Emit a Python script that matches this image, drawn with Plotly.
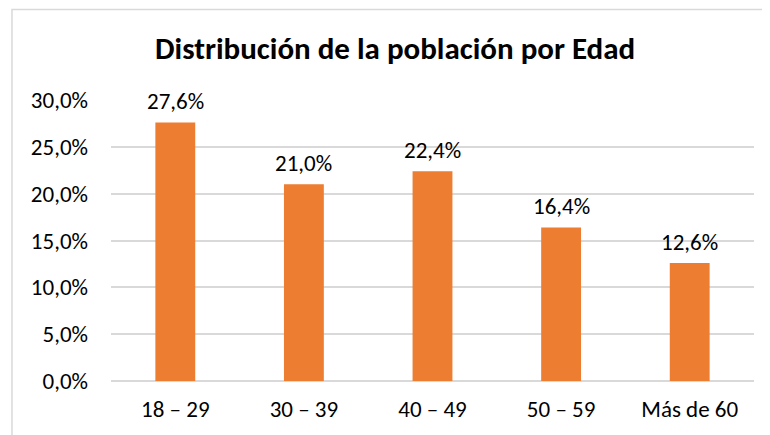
import plotly.graph_objects as go

categories = ["18 – 29", "30 – 39", "40 – 49", "50 – 59", "Más de 60"]
values = [0.276, 0.210, 0.224, 0.164, 0.126]
tick_vals = [0, 0.05, 0.10, 0.15, 0.20, 0.25, 0.30]

FONT = "Calibri, Carlito, Lato, sans-serif"

fig = go.Figure()
fig.add_trace(go.Bar(
    x=categories, y=values,
    marker=dict(color="#ED7D31", line=dict(width=0)),
    width=0.31,
    hoverinfo="skip",
))

for c, v in zip(categories, values):
    fig.add_annotation(x=c, y=v, text=f"{v*100:.1f}%".replace(".", ","),
                       showarrow=False, yanchor="bottom", yshift=5,
                       font=dict(family=FONT, size=23, color="#000000"))

fig.add_shape(type="rect", xref="paper", yref="paper",
              x0=-0.154, x1=1.2, y0=-0.4, y1=1.322,
              line=dict(color="#D9D9D9", width=1.5), fillcolor="rgba(0,0,0,0)",
              layer="below")

fig.update_layout(
    width=762, height=427,
    margin=dict(l=103, r=16, t=92, b=54),
    paper_bgcolor="white", plot_bgcolor="white",
    separators=",.",
    showlegend=False,
    title=dict(text="<b>Distribución de la población por Edad</b>",
               x=0.508, xanchor="center", y=0.906, yanchor="middle",
               font=dict(family=FONT, size=31, color="#000000")),
    font=dict(family=FONT, size=23, color="#000000"),
    xaxis=dict(showgrid=False, showline=False, ticks="", ticklabelstandoff=12,
               tickfont=dict(family=FONT, size=23, color="#000000")),
    yaxis=dict(range=[0, 0.30], tickvals=tick_vals, tickformat=".1%",
               showgrid=True, gridcolor="#D9D9D9", gridwidth=1.5,
               zeroline=True, zerolinecolor="#D9D9D9", zerolinewidth=1.5,
               showline=False, ticks="", ticklabelstandoff=22,
               tickfont=dict(family=FONT, size=23, color="#000000")),
)

fig.write_html("out.html")
